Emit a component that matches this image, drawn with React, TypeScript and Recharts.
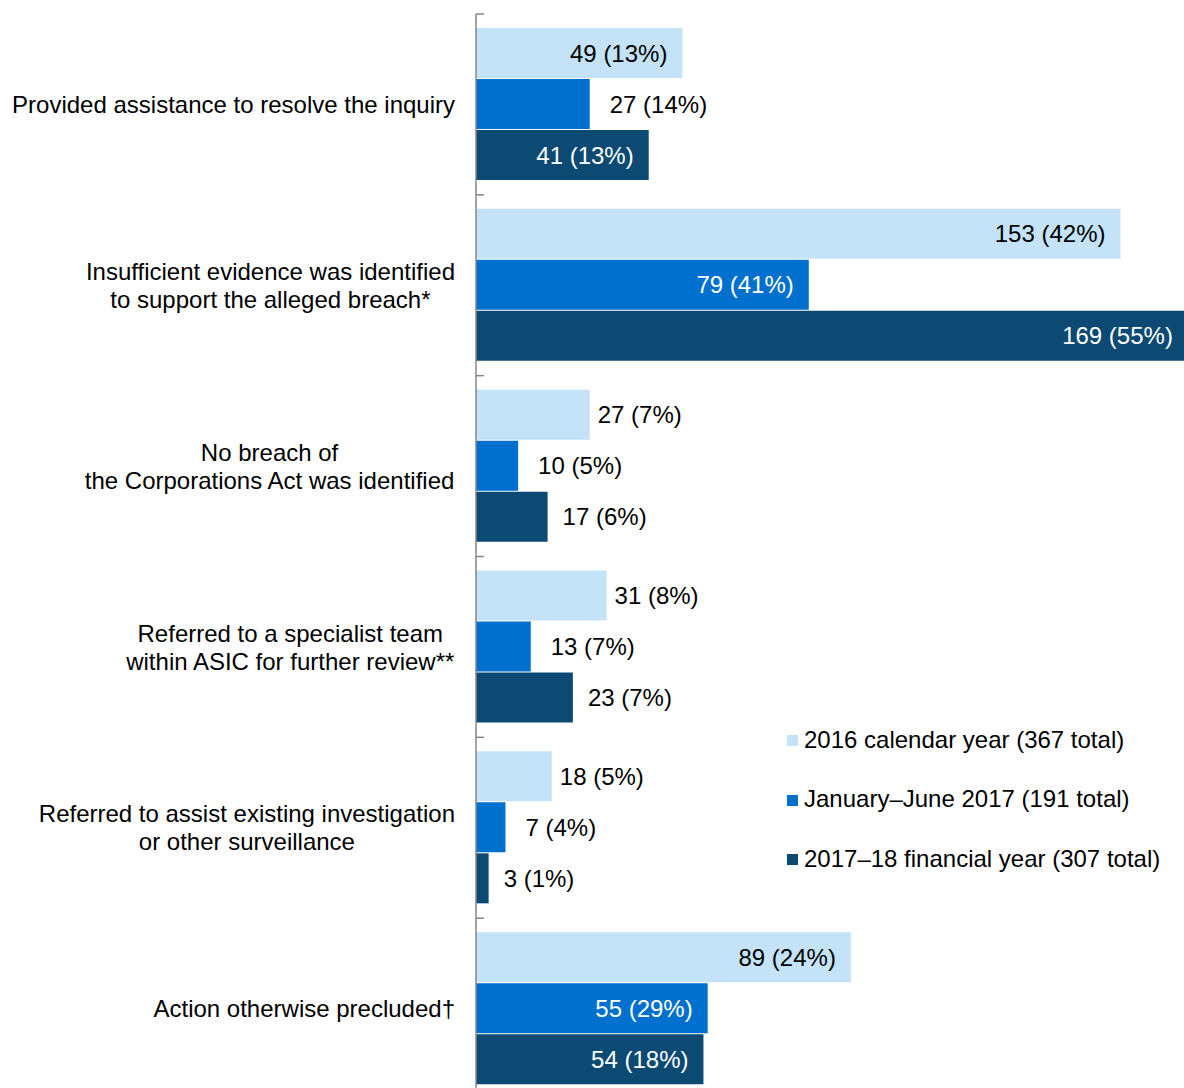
import { BarChart, Bar, XAxis, YAxis, Legend } from 'recharts'

const categories = [
  'Provided assistance to resolve the inquiry',
  'Insufficient evidence was identified\nto support the alleged breach*',
  'No breach of\nthe Corporations Act was identified',
  'Referred to a specialist team\nwithin ASIC for further review**',
  'Referred to assist existing investigation\nor other surveillance',
  'Action otherwise precluded†',
]

const count2016 = [49, 153, 27, 31, 18, 89]
const pct2016 = [13, 42, 7, 8, 5, 24]
const countH12017 = [27, 79, 10, 13, 7, 55]
const pctH12017 = [14, 41, 5, 7, 4, 29]
const countFY1718 = [41, 169, 17, 23, 3, 54]
const pctFY1718 = [13, 55, 6, 7, 1, 18]

const seriesNames = [
  '2016 calendar year (367 total)',
  'January\u2013June 2017 (191 total)',
  '2017\u201318 financial year (307 total)',
]

const FONT = '"Liberation Sans", Arial, sans-serif'
const FONT_SIZE = 24

const series = [
  { key: 's2016', pct: 'p2016', name: seriesNames[0], fill: '#C5E3F8', inside: '#000', outGap: 8 },
  { key: 'sH1', pct: 'pH1', name: seriesNames[1], fill: '#0070CE', inside: '#fff', outGap: 20 },
  { key: 'sFY', pct: 'pFY', name: seriesNames[2], fill: '#0C4A73', inside: '#fff', outGap: 15 },
]

const data = categories.map((name, i) => ({
  name,
  s2016: count2016[i],
  p2016: pct2016[i],
  sH1: countH12017[i],
  pH1: pctH12017[i],
  sFY: countFY1718[i],
  pFY: pctFY1718[i],
}))

const CHART_W = 1190
const CHART_H = 1100
const MARGIN = { top: 14, right: 0, bottom: 1, left: 0 }
const AXIS_W = 476
const BAND = (CHART_H - MARGIN.top - MARGIN.bottom) / categories.length

const ctx = document.createElement('canvas').getContext('2d')
function textWidth(s: string) {
  if (!ctx) return s.length * 11
  ctx.font = `${FONT_SIZE}px "Liberation Sans"`
  return ctx.measureText(s).width
}

function CategoryTick(props: any) {
  const { y, payload, index } = props
  const lines = String(payload.value).split('\n')
  const maxW = Math.max(...lines.map(textWidth))
  const cx = 455 - maxW / 2
  const axisX = MARGIN.left + AXIS_W
  return (
    <g>
      {lines.map((l, i) => (
        <text
          key={i}
          x={cx}
          y={y + (i - (lines.length - 1) / 2) * 28}
          dy="0.36em"
          textAnchor="middle"
          fontFamily={FONT}
          fontSize={FONT_SIZE}
          fill="#000"
        >
          {l}
        </text>
      ))}
      <line x1={axisX} x2={axisX + 8} y1={y - BAND / 2} y2={y - BAND / 2} stroke="#868686" strokeWidth={1.5} />
      {index === categories.length - 1 && (
        <line x1={axisX} x2={axisX + 8} y1={y + BAND / 2} y2={y + BAND / 2} stroke="#868686" strokeWidth={1.5} />
      )}
    </g>
  )
}

function makeLabel(s: (typeof series)[number]) {
  return (props: any) => {
    const { x, y, width, height, index } = props
    const row = data[index] as any
    const value = row[s.key]
    const text = `${value} (${row[s.pct]}%)`
    const inside = value >= 40
    return (
      <text
        x={inside ? x + width - 15 : x + width + s.outGap}
        y={y + height / 2}
        dy="0.36em"
        textAnchor={inside ? 'end' : 'start'}
        fontFamily={FONT}
        fontSize={FONT_SIZE}
        fill={inside ? s.inside : '#000'}
      >
        {text}
      </text>
    )
  }
}

function renderLegend() {
  return (
    <div style={{ fontFamily: FONT, fontSize: FONT_SIZE, color: '#000' }}>
      {series.map((s) => (
        <div key={s.key} style={{ display: 'flex', alignItems: 'center', height: 59.5, whiteSpace: 'nowrap' }}>
          <span style={{ width: 11, height: 11, background: s.fill, marginRight: 6, marginTop: 2 }} />
          <span>{s.name}</span>
        </div>
      ))}
    </div>
  )
}

export default function App() {
  return (
    <div style={{ position: 'absolute', left: 0, top: 0, width: 1184, height: 1088, overflow: 'hidden', background: '#fff' }}>
      <BarChart
        width={CHART_W}
        height={CHART_H}
        data={data}
        layout="vertical"
        margin={MARGIN}
        barSize={50}
        barGap={1}
      >
        <XAxis type="number" domain={[0, 169.5]} hide allowDataOverflow />
        <YAxis
          type="category"
          dataKey="name"
          width={AXIS_W}
          interval={0}
          axisLine={{ stroke: '#868686', strokeWidth: 1.5 }}
          tickLine={false}
          tick={<CategoryTick />}
        />
        <Legend
          layout="vertical"
          align="center"
          verticalAlign="middle"
          wrapperStyle={{ left: 787, top: 710, width: 395 }}
          content={renderLegend}
        />
        {series.map((s) => (
          <Bar
            key={s.key}
            dataKey={s.key}
            name={s.name}
            fill={s.fill}
            isAnimationActive={false}
            label={makeLabel(s)}
          />
        ))}
      </BarChart>
    </div>
  )
}
